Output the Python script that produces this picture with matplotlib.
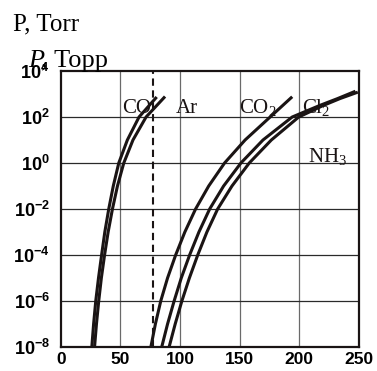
import numpy as np
import matplotlib
matplotlib.use("Agg")
import matplotlib.pyplot as plt

plt.rcParams['mathtext.fontset'] = 'custom'
plt.rcParams['mathtext.rm'] = 'Liberation Serif'
plt.rcParams['mathtext.it'] = 'Liberation Serif:italic'
plt.rcParams['mathtext.bf'] = 'Liberation Sans:bold'
plt.rcParams['mathtext.default'] = 'rm'

# vapour pressure curves: temperature (K) vs log10 P (Torr)
co_T = [26.0, 27.5, 29.3, 31.6, 34.2, 36.9, 40.2, 44.0, 48.6, 55.8, 65.6, 80.4]
co_logP = [-8, -7, -6, -5, -4, -3, -2, -1, 0, 1, 2, 2.87]
ar_T = [28.3, 29.9, 31.8, 34.0, 36.7, 39.7, 43.3, 47.5, 52.8, 60.5, 71.5, 87.4]
ar_logP = [-8, -7, -6, -5, -4, -3, -2, -1, 0, 1, 2, 2.89]
co2_T = [75.5, 79.3, 83.8, 89.5, 96.3, 104.0, 113.0, 124.0, 137.3, 154.5, 175.5, 194.0]
co2_logP = [-8, -7, -6, -5, -4, -3, -2, -1, 0, 1, 2, 2.88]
cl2_T = [84.6, 89.5, 95.0, 101.0, 108.0, 115.8, 124.8, 136.5, 151.0, 169.5, 194.0, 217.0, 232.0, 247.0]
cl2_logP = [-8, -7, -6, -5, -4, -3, -2, -1, 0, 1, 2, 2.5, 2.8, 3.12]
nh3_T = [90.8, 95.9, 101.5, 107.8, 114.8, 122.5, 131.5, 143.5, 158.0, 176.5, 199.5, 220.0, 234.0, 249.0]
nh3_logP = [-8, -7, -6, -5, -4, -3, -2, -1, 0, 1, 2, 2.5, 2.8, 3.08]

curves = [(co_T, co_logP), (ar_T, ar_logP), (co2_T, co2_logP),
          (cl2_T, cl2_logP), (nh3_T, nh3_logP)]

# curve labels: text, T, log10 P
labels = [("CO", 51.3, 2.17), ("Ar", 96.6, 2.17), ("CO$_2$", 149.5, 2.17),
          ("Cl$_2$", 202.3, 2.17), ("NH$_3$", 207.6, 0.04)]

x_ticks = [0, 50, 100, 150, 200, 250]
y_exp = [-8, -6, -4, -2, 0, 2, 4]
T_ln2 = 77  # dashed line, liquid nitrogen

fig = plt.figure(figsize=(3.77, 3.71), dpi=100)
ax = fig.add_axes([60.8/377, 24/371, (359-60.8)/377, (347-71)/371])

for T, lp in curves:
    ax.plot(T, 10.0**np.array(lp), color='#1a1414', lw=2.2, solid_capstyle='butt')

ax.axvline(T_ln2, color='#1a1414', lw=1.5, ls=(0, (3.5, 2.2)))

for txt, T, lp in labels:
    ax.text(T, 10.0**lp, txt, fontsize=15, family='Liberation Serif',
            ha='left', va='baseline', color='#1a1414')

ax.set_yscale('log')
ax.set_xlim(0, 250)
ax.set_ylim(1e-8, 1e4)
ax.set_xticks(x_ticks)
ax.set_xticklabels([str(t) for t in x_ticks], fontsize=12.5,
                   family='Liberation Sans', fontweight='bold')
ax.set_yticks([10.0**e for e in y_exp])
ax.set_yticklabels([r'$\mathbf{10^{%d}}$' % e for e in y_exp], fontsize=13)
ax.yaxis.set_minor_locator(matplotlib.ticker.NullLocator())
ax.tick_params(length=0)
ax.tick_params(axis='x', pad=3.5)
ax.tick_params(axis='y', pad=8)

for t in x_ticks[1:-1]:
    ax.axvline(t, color='#6a6a6a', lw=0.9, zorder=0)
for e in y_exp[1:-1]:
    ax.axhline(10.0**e, color='#2a2a2a', lw=0.9, zorder=0)

for s in ax.spines.values():
    s.set_linewidth(1.6)
    s.set_color('#1a1414')

fig.text(12.7/377, 1 - 30/371, "P, Torr", fontsize=18, family='Liberation Serif',
         ha='left', va='baseline')
fig.text(28/377, 1 - 67/371, "P", fontsize=19, family='Liberation Serif',
         style='italic', ha='left', va='baseline')
fig.text(41/377, 1 - 67/371, ", Торр", fontsize=19, family='Liberation Serif',
         ha='left', va='baseline')

fig.savefig("out.png", dpi=100)
